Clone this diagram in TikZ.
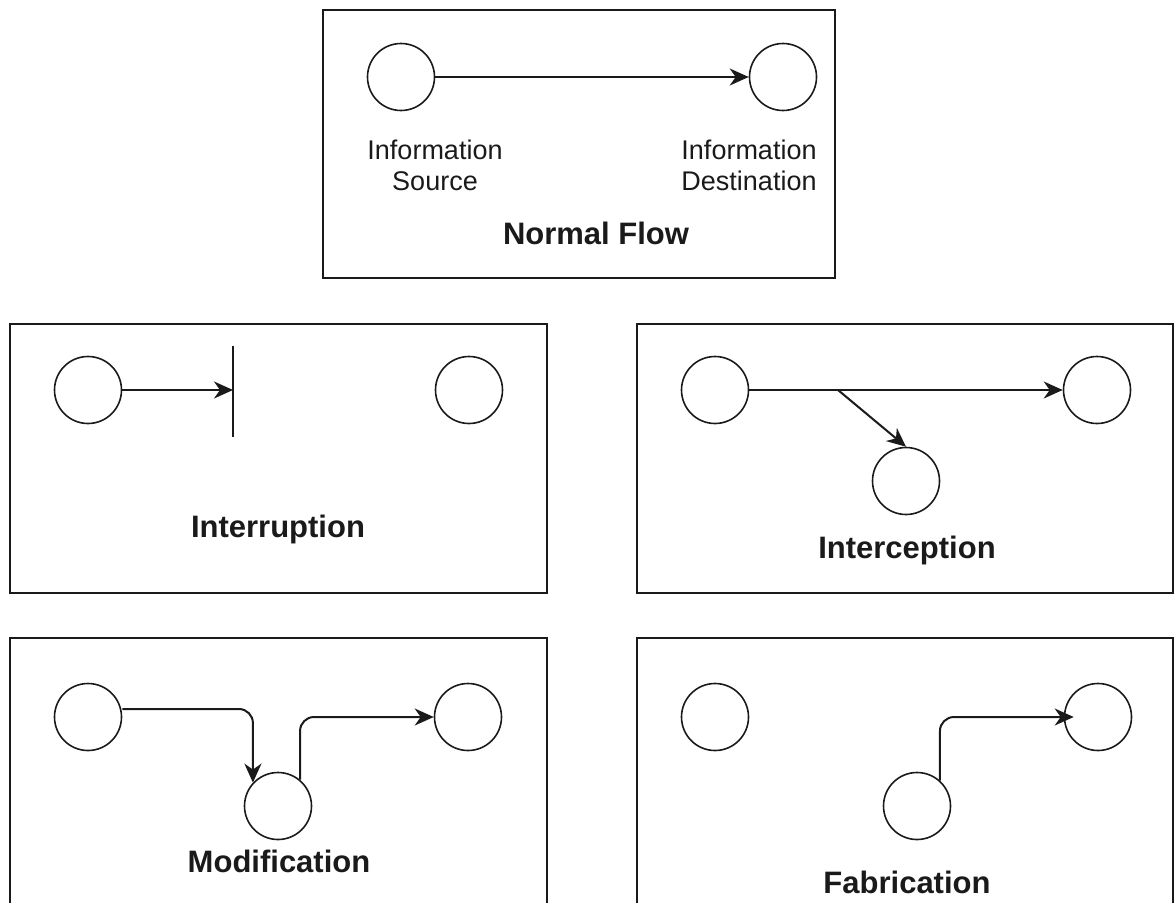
\documentclass[tikz,border=0pt]{standalone}
\usepackage{fontspec}
\setmainfont{Liberation Sans}
\usetikzlibrary{arrows.meta}
\definecolor{ink}{HTML}{1A1A1A}
\begin{document}
\begin{tikzpicture}[x=1pt,y=-1pt,
  panel/.style={draw=ink, line width=2pt},
  party/.style={circle, draw=ink, line width=1.6pt, minimum size=67pt, inner sep=0pt},
  flow/.style={draw=ink, line width=2pt, -{Stealth[length=19pt,width=17pt,inset=6pt]}},
  barrier/.style={draw=ink, line width=2pt},
  caption/.style={text=ink, font=\fontsize{31}{36}\selectfont\bfseries, anchor=base},
  role/.style={text=ink, font=\fontsize{27}{31}\selectfont, align=center},
  elbow/.style={rounded corners=14pt}]
\clip (0,0) rectangle (1174,902);

% ---- Normal flow ----
\draw[panel] (323,10) rectangle (835,278);
\node[party] (ns) at (401,77) {};
\node[party] (nd) at (783,77) {};
\draw[flow] (ns) -- (nd);
\node[role] (nsl) at (435,165) {Information\\Source};
\node[role] (ndl) at (749,165) {Information\\Destination};
\node[caption] (ncap) at (596,244) {Normal Flow};

% ---- Interruption ----
\draw[panel] (10,324) rectangle (547,593);
\node[party] (is) at (88,390) {};
\node[party] (id) at (469,390) {};
\coordinate (ibtop) at (233,346);
\coordinate (ibbot) at (233,437);
\coordinate (ibhit) at (233,390);
\draw[barrier] (ibtop) -- (ibbot);
\draw[flow] (is) -- (ibhit);
\node[caption] (icap) at (278,537) {Interruption};

% ---- Interception ----
\draw[panel] (637,324) rectangle (1173,593);
\node[party] (cs) at (715,390) {};
\node[party] (cd) at (1097,390) {};
\node[party] (ci) at (906,481) {};
\draw[flow] (cs) -- (cd);
\coordinate (ctap) at (838,390);
\draw[flow] (ctap) -- (ci.north);
\node[caption] (ccap) at (907,558) {Interception};

% ---- Modification ----
\draw[panel] (10,638) rectangle (547,940);
\node[party] (ms) at (88,717) {};
\node[party] (md) at (468,717) {};
\node[party] (mi) at (278,806) {};
\draw[flow,elbow] ([yshift=8pt]ms.east) -| (mi.137);
\draw[flow,elbow] (mi.50) |- (md.west);
\node[caption] (mcap) at (279,872) {Modification};

% ---- Fabrication ----
\draw[panel] (637,638) rectangle (1173,940);
\node[party] (fs) at (715,717) {};
\node[party] (fd) at (1098,717) {};
\node[party] (fi) at (917,806) {};
\draw[flow,elbow] (fi.48) |- ([xshift=10pt]fd.west);
\node[caption] (fcap) at (907,893) {Fabrication};
\end{tikzpicture}
\end{document}
